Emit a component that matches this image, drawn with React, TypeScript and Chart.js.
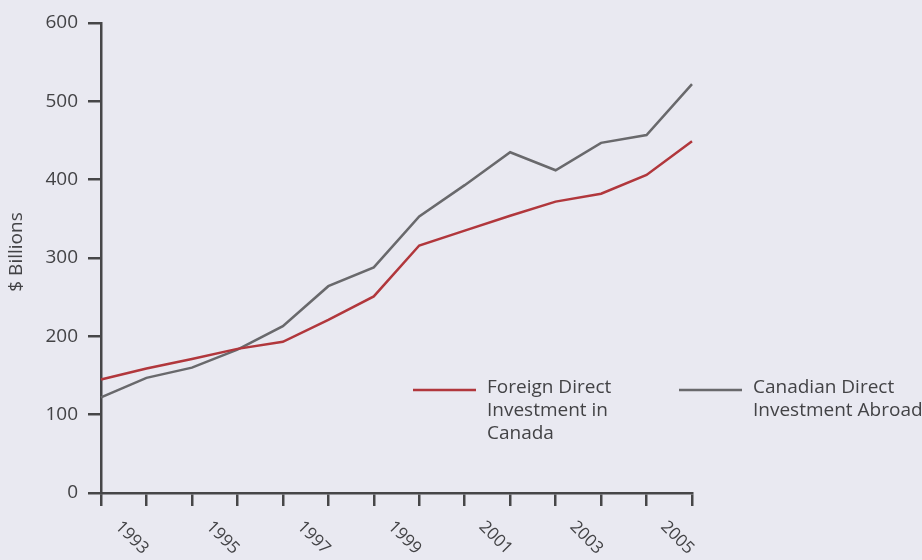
import React, { useEffect, useRef } from "react";
import { Chart, registerables } from "chart.js";

Chart.register(...registerables);

const years = ["1993", "1994", "1995", "1996", "1997", "1998", "1999", "2000", "2001", "2002", "2003", "2004", "2005", "2006"];
const xTickLabels = ["1993", "1995", "1997", "1999", "2001", "2003", "2005"];
const fdiCanada = [145, 159, 171, 184, 193, 221, 251, 316, 335, 354, 372, 382, 406, 449];
const cdiAbroad = [122, 147, 160, 183, 213, 264, 288, 353, 393, 435, 412, 447, 457, 522];
const fdiLabel = ["Foreign Direct", "Investment in", "Canada"];
const cdiLabel = ["Canadian Direct", "Investment Abroad"];
const yTitle = "$ Billions";

const FONT = "'Open Sans', 'Noto Sans', sans-serif";
const TEXT = "#434346";
const AXIS = "#464648";
const RED = "#b1373c";
const GRAY = "#69696c";
const BG = "#e9e9f1";

const overlayPlugin = {
  id: "overlay",
  afterDraw(chart: any) {
    const ctx = chart.ctx;
    const xs = chart.scales.x;
    const area = chart.chartArea;
    ctx.save();
    // rotated x labels
    ctx.fillStyle = TEXT;
    ctx.font = `17px ${FONT}`;
    ctx.textAlign = "left";
    ctx.textBaseline = "middle";
    xTickLabels.forEach((lab) => {
      const idx = years.indexOf(lab);
      if (idx < 0) return;
      const x = xs.getPixelForValue(idx);
      ctx.save();
      ctx.translate(x + 17, area.bottom + 31);
      ctx.rotate(Math.PI / 4);
      ctx.fillText(lab, 0, 0);
      ctx.restore();
    });
    // y title
    ctx.save();
    ctx.translate(17, (area.top + area.bottom) / 2 - 6);
    ctx.rotate(-Math.PI / 2);
    ctx.textAlign = "center";
    ctx.font = `19px ${FONT}`;
    ctx.fillText(yTitle, 0, 0);
    ctx.restore();
    // legend
    const items = [
      { ds: chart.data.datasets[0], x: 413 },
      { ds: chart.data.datasets[1], x: 679 },
    ];
    ctx.font = `19px ${FONT}`;
    items.forEach((it) => {
      ctx.strokeStyle = it.ds.borderColor;
      ctx.lineWidth = 2.5;
      ctx.beginPath();
      ctx.moveTo(it.x, 390);
      ctx.lineTo(it.x + 63, 390);
      ctx.stroke();
      const lines: string[] = it.ds.label;
      lines.forEach((ln, i) => {
        ctx.fillText(ln, it.x + 74, 388 + i * 23);
      });
    });
    ctx.restore();
  },
};

export default function App() {
  const ref = useRef<HTMLCanvasElement | null>(null);
  useEffect(() => {
    document.body.style.margin = "0";
    if (!ref.current) return;
    const chart = new Chart(ref.current, {
      type: "line",
      data: {
        labels: years,
        datasets: [
          { label: fdiLabel as any, data: fdiCanada, borderColor: RED, borderWidth: 2.5, pointRadius: 0, tension: 0, fill: false },
          { label: cdiLabel as any, data: cdiAbroad, borderColor: GRAY, borderWidth: 2.5, pointRadius: 0, tension: 0, fill: false },
        ],
      },
      options: {
        animation: false,
        responsive: false,
        devicePixelRatio: 1,
        layout: { padding: { top: 23, right: 230, left: 0, bottom: 0 } },
        plugins: { legend: { display: false }, tooltip: { enabled: false }, title: { display: false } },
        scales: {
          x: {
            type: "category",
            offset: false,
            grid: { display: true, drawOnChartArea: false, drawTicks: true, tickLength: 13, color: AXIS, lineWidth: 2.5 },
            border: { display: true, color: AXIS, width: 2.5 },
            ticks: { display: false, autoSkip: false },
            afterFit: (s: any) => { s.height = 67; },
          },
          y: {
            min: 0,
            max: 600,
            grid: { display: true, drawOnChartArea: false, drawTicks: true, tickLength: 13, color: AXIS, lineWidth: 2.5 },
            border: { display: true, color: AXIS, width: 2.5 },
            ticks: { stepSize: 100, padding: 10, color: TEXT, font: { family: FONT, size: 19 } },
            afterFit: (s: any) => { s.width = 101; },
          },
        },
      },
      plugins: [overlayPlugin],
    });
    return () => chart.destroy();
  }, []);
  return (
    <div style={{ position: "absolute", left: 0, top: 0, width: 922, height: 560, background: BG }}>
      <canvas ref={ref} width={922} height={560} style={{ width: 922, height: 560, display: "block" }} />
    </div>
  );
}
